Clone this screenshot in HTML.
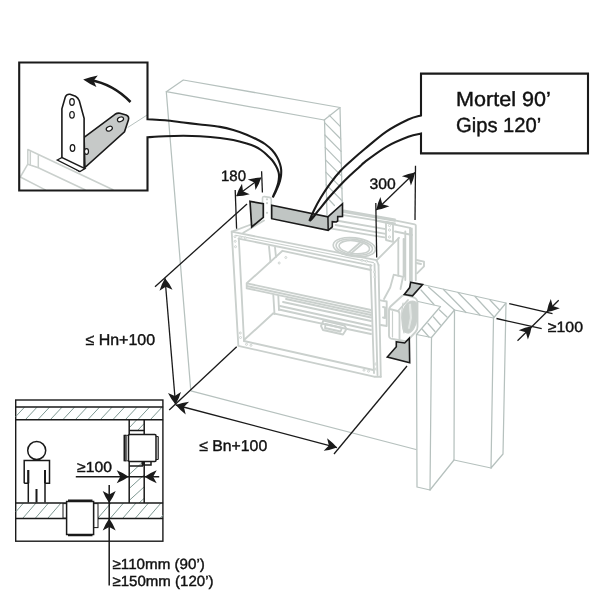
<!DOCTYPE html>
<html><head><meta charset="utf-8"><title>diagram</title>
<style>
html,body{margin:0;padding:0;background:#fff;}
svg{display:block;will-change:transform}
text{font-family:"Liberation Sans",sans-serif;fill:#111;stroke:#111;stroke-width:0.4px;text-rendering:geometricPrecision}
</style></head>
<body>
<svg width="600" height="600" viewBox="0 0 600 600">
<rect width="600" height="600" fill="#fff"/>
<g fill="none" stroke-linecap="round" stroke-linejoin="round">
<path d="M166.3,91.7 L324.2,120 M166.3,91.7 L190.8,390.8 L416,449.5" stroke="#b6c1be" stroke-width="1.25" fill="none" />
<path d="M166.3,91.7 L183.3,80 L340,107.5 L324.2,120" stroke="#b6c1be" stroke-width="1.25" fill="none" />
<path d="M324.5,119.8 L327,215 M340,107.6 L342.3,204" stroke="#b6c1be" stroke-width="1.25" fill="none" />
<line x1="329.10844000000003" y1="115.12" x2="340.456" y2="126.6" stroke="#b6c1be" stroke-width="1.2" />
<line x1="324.5676" y1="122.6" x2="340.7536" y2="139.0" stroke="#b6c1be" stroke-width="1.2" />
<line x1="324.89" y1="135" x2="341.0512" y2="151.4" stroke="#b6c1be" stroke-width="1.2" />
<line x1="325.2124" y1="147.4" x2="341.3488" y2="163.8" stroke="#b6c1be" stroke-width="1.2" />
<line x1="325.5348" y1="159.8" x2="341.6464" y2="176.20000000000002" stroke="#b6c1be" stroke-width="1.2" />
<line x1="325.8572" y1="172.2" x2="341.944" y2="188.6" stroke="#b6c1be" stroke-width="1.2" />
<line x1="326.1796" y1="184.6" x2="342.2416" y2="201.0" stroke="#b6c1be" stroke-width="1.2" />
<line x1="326.5" y1="197" x2="334.5" y2="205.5" stroke="#b6c1be" stroke-width="1.2" />
<path d="M422.5,284.5 L506,303 L493.5,318 L454.5,310 L431.5,337.5 L416.5,334.5 L440.5,306.5 L418,301.5" stroke="#b6c1be" stroke-width="1.25" fill="none" />
<path d="M506,303 L503,454 L491,468 L493.5,318" stroke="#b6c1be" stroke-width="1.25" fill="none" />
<path d="M454.5,310 L454,460 L491,468" stroke="#b6c1be" stroke-width="1.25" fill="none" />
<path d="M431.5,337.5 L430,490 L417,487 L416.5,334.5" stroke="#b6c1be" stroke-width="1.25" fill="none" />
<path d="M430,490 L454,460" stroke="#b6c1be" stroke-width="1.25" fill="none" />
<line x1="421" y1="290" x2="434" y2="304.5" stroke="#b6c1be" stroke-width="1.25" />
<line x1="428.5" y1="287" x2="454.5" y2="310" stroke="#b6c1be" stroke-width="1.25" />
<line x1="443.5" y1="289.5" x2="466" y2="312.5" stroke="#b6c1be" stroke-width="1.25" />
<line x1="458" y1="292.5" x2="480" y2="315" stroke="#b6c1be" stroke-width="1.25" />
<line x1="475" y1="296.5" x2="494" y2="317" stroke="#b6c1be" stroke-width="1.25" />
<line x1="490" y1="300" x2="499.5" y2="310" stroke="#b6c1be" stroke-width="1.25" />
<line x1="439.5" y1="310" x2="447" y2="317" stroke="#b6c1be" stroke-width="1.25" />
<line x1="433.5" y1="317" x2="440.5" y2="325" stroke="#b6c1be" stroke-width="1.25" />
<line x1="428" y1="323.5" x2="435" y2="331.5" stroke="#b6c1be" stroke-width="1.25" />
<line x1="422" y1="329" x2="429" y2="337" stroke="#b6c1be" stroke-width="1.25" />
</g>
<g fill="none" stroke="#cad0cd" stroke-width="1.85" stroke-linecap="round" stroke-linejoin="round">
<path d="M232,231.7 L251,224.5 M243.3,232.8 L264,220.5" fill="none" />
<path d="M231.7,231.7 L376.6,260.2 L378.5,265 M238.5,238.6 L371.5,265.6" fill="none" />
<path d="M235.5,235.3 L373.5,262.6" fill="none" stroke-width="1.1"/>
<path d="M231.7,231.7 L238.3,345 M238.8,238.3 L244,341" fill="none" />
<path d="M244,341 L373.3,370 M238.3,345.8 L374,376.7 L380.8,376.7" fill="none" />
<path d="M370.5,265 L374,373 M378.5,265 L380.8,376.7 M374.5,264 L377.5,375" fill="none" />
<path d="M244,340 L273.3,313.3 L371,334" fill="none" />
<path d="M246.7,283.3 L282.5,250.8 L371,270 M246.7,283.3 L371,310 M246.7,286 L371,312.7 M246.7,288.3 L371,315 M246.7,283.3 L246.7,288.3" fill="none" />
<path d="M269,246.5 L270.5,262 M275,247.5 L276,257 M273.3,295 L274.5,314 M278.3,296 L279,310" fill="none" />
<path d="M280,306 L371,326 M283,302 L371,321 M279,309.5 L371,330 M286,299 L371,317.5" fill="none" />
<path d="M323.5,320.5 L344.5,325.5 L346.5,329 L343,334.5 L323,330 L321,326 Z M325.5,324 L342,328 L340.5,331.5 L325,328 Z" fill="none" />
<path d="M376.3,260.7 L399,237.8" fill="none" />
<path d="M343.7,210.5 L395,219.3 M343.7,212 L395,220.8 M343.7,215.2 L395,223.3 M339,221 L385.7,229.2 M335.5,225 L385.7,233.8 M331.4,228.6 L384.5,237.3" fill="none" />
<ellipse cx="354.3" cy="247.2" rx="21.2" ry="9.4" transform="rotate(7 354.3 247.2)" stroke-width="1.6"/>
<ellipse cx="354.3" cy="247.2" rx="18.3" ry="7.9" transform="rotate(7 354.3 247.2)" stroke-width="1.6"/>
<ellipse cx="354.3" cy="247.2" rx="15.3" ry="6.4" transform="rotate(7 354.3 247.2)" stroke-width="1.6"/>
<path d="M348.5,252.6 L360.5,242.3 M351,253.4 L363,243.2" fill="none" />
<path d="M386,222 L393,223.7 L393,241.8 L386,240 Z" fill="#fff" />
<path d="M377.3,216.8 L414.7,224.3 Q415.8,224.5 415.8,225.5 L415.8,280.3 M377,220.8 L410,227.8 M395,231.5 L412,235" fill="none" />
<path d="M398.3,238.3 L398.3,275.7 M403.6,239 L403.6,276.5 M405.3,231.3 L405.3,280 M410,228 L410,281 M411.8,228.5 L411.8,281" fill="none" />
<path d="M416.4,260 L424,261.7 L424,266.3 L417,273.3 M416.4,263 L421,264" fill="none" />
<path d="M393.7,274.7 L403,276.8 L400.5,289 M393.7,274.7 L390.2,287.5 L384,299" fill="none" />
<path d="M380.5,300.3 L386.7,301.5 L386.7,326 L380.8,325 M383,307 L385,307.5 L385,318 L383,317.5" fill="none" />
<path d="M389,310 Q389,308 390.5,306.5 L402,296 Q404,294.5 406.5,295 L414,297.5 Q417.5,299 417.5,303 L417.5,327 Q417.5,330 415.5,332 L408,340 Q406.5,341.5 404,341 L391,338.6 Q389,338 389,336 Z" fill="#fff" />
<path d="M389.5,309 L397.5,311 Q399.5,311.5 399.5,314 L399.5,340 M398,311 L408,300" fill="none" />
<path d="M405.5,305.6 Q408,301 412.9,301 Q417,301.5 417,305 L417,318 Q416.5,324 413.8,328.5 Q411,333 408.3,333.1 Q404,333 403.2,329 L402.3,317.5 Q402.5,309 405.5,305.6 Z" fill="#c9cfcc" stroke-width="1.2"/>
<path d="M408.5,303.5 L411.5,303 L412.5,318 L410,329.5 L407.3,329 L409.3,318 Z" fill="#e4e8e6" stroke-width="1"/>
<path d="M403,303 Q400,318 404,333 M392.5,311.5 L392.5,337" fill="none" stroke-width="1.2"/>
</g>
<circle cx="235" cy="236.7" r="1" fill="#fff" stroke="#cad0cd" stroke-width="0.9"/>
<circle cx="235.2" cy="241.3" r="1" fill="#fff" stroke="#cad0cd" stroke-width="0.9"/>
<circle cx="235.5" cy="246.7" r="1" fill="#fff" stroke="#cad0cd" stroke-width="0.9"/>
<circle cx="240.8" cy="237.2" r="1" fill="#fff" stroke="#cad0cd" stroke-width="0.9"/>
<circle cx="245.3" cy="238" r="1" fill="#fff" stroke="#cad0cd" stroke-width="0.9"/>
<circle cx="285.8" cy="257.5" r="1" fill="#fff" stroke="#cad0cd" stroke-width="0.9"/>
<circle cx="279.2" cy="263" r="1" fill="#fff" stroke="#cad0cd" stroke-width="0.9"/>
<circle cx="240.3" cy="333" r="1" fill="#fff" stroke="#cad0cd" stroke-width="0.9"/>
<circle cx="240.5" cy="337.5" r="1" fill="#fff" stroke="#cad0cd" stroke-width="0.9"/>
<circle cx="246.5" cy="344.3" r="1" fill="#fff" stroke="#cad0cd" stroke-width="0.9"/>
<circle cx="251" cy="345.3" r="1" fill="#fff" stroke="#cad0cd" stroke-width="0.9"/>
<circle cx="364" cy="370.2" r="1" fill="#fff" stroke="#cad0cd" stroke-width="0.9"/>
<circle cx="368.5" cy="371.2" r="1" fill="#fff" stroke="#cad0cd" stroke-width="0.9"/>
<circle cx="375.8" cy="364" r="1" fill="#fff" stroke="#cad0cd" stroke-width="0.9"/>
<circle cx="376" cy="369" r="1" fill="#fff" stroke="#cad0cd" stroke-width="0.9"/>
<circle cx="362" cy="260.3" r="1" fill="#fff" stroke="#cad0cd" stroke-width="0.9"/>
<circle cx="366.5" cy="261.2" r="1" fill="#fff" stroke="#cad0cd" stroke-width="0.9"/>
<circle cx="374.6" cy="272" r="1" fill="#fff" stroke="#cad0cd" stroke-width="0.9"/>
<circle cx="374.8" cy="277" r="1" fill="#fff" stroke="#cad0cd" stroke-width="0.9"/>
<circle cx="389.5" cy="225.5" r="1.1" fill="#fff" stroke="#cad0cd" stroke-width="0.9"/>
<circle cx="389.5" cy="230" r="1.1" fill="#fff" stroke="#cad0cd" stroke-width="0.9"/>
<circle cx="389.5" cy="237" r="1.1" fill="#fff" stroke="#cad0cd" stroke-width="0.9"/>
<path d="M262.5,217 L262.5,198.5 Q262.5,196.3 264.5,196.6 L269.5,197.4 Q271.3,197.8 271.3,199.8 L271.3,218.6" fill="#fff" stroke="#cad0cd" stroke-width="1.6"/>
<circle cx="267" cy="199.3" r="1.1" fill="#cad0cd" stroke="none"/>
<circle cx="267" cy="203.2" r="1.1" fill="#cad0cd" stroke="none"/>
<circle cx="267" cy="212.8" r="1.1" fill="#cad0cd" stroke="none"/>
<g stroke-linejoin="miter">
<polygon points="250,201.3 263.3,203.7 263.3,217.3 251.7,227" stroke="#1a1a1a" stroke-width="1.7" fill="#c0c5c3" />
<polygon points="271.7,205.3 327.9,216.8 342.5,203.7 342.5,216.4 337.7,216.6 337.7,221 336.3,222 332.3,221.6 332.3,226.8 328.2,230.3 271.7,218.7" stroke="#1a1a1a" stroke-width="1.6" fill="#c0c5c3" />
<line x1="327.9" y1="216.8" x2="328.2" y2="230.3" stroke="#1a1a1a" stroke-width="1.5" />
<polygon points="410.6,282.3 422.6,284.6 412.5,295.8 404.3,294.5 409.7,287.6" stroke="#1a1a1a" stroke-width="1.6" fill="#c0c5c3" />
<polygon points="396.3,341.7 404.7,343 409.3,338.3 409.7,362.7 387.3,357 396.3,346.7" stroke="#1a1a1a" stroke-width="1.6" fill="#c0c5c3" />
</g>
<line x1="235.2" y1="190" x2="236.6" y2="228.7" stroke="#1a1a1a" stroke-width="1.3" />
<line x1="261.6" y1="171.3" x2="262.4" y2="192.5" stroke="#1a1a1a" stroke-width="1.3" />
<line x1="236.7" y1="195.8" x2="260.8" y2="178" stroke="#1a1a1a" stroke-width="1.3" />
<path d="M236.2,196.2 Q238.3,189.6 242.0,183.8 L243.0,191.2 L249.7,194.3 Q243.1,196.1 236.2,196.2 Z" fill="#1a1a1a"/>
<path d="M261.3,177.6 Q259.2,184.2 255.5,190.0 L254.5,182.6 L247.8,179.5 Q254.4,177.7 261.3,177.6 Z" fill="#1a1a1a"/>
<line x1="375.8" y1="203" x2="376.7" y2="257.5" stroke="#1a1a1a" stroke-width="1.3" />
<line x1="415.5" y1="165.8" x2="415" y2="220" stroke="#1a1a1a" stroke-width="1.3" />
<line x1="376.3" y1="210" x2="415" y2="172.5" stroke="#1a1a1a" stroke-width="1.3" />
<path d="M376.3,210.0 Q377.5,203.2 380.4,197.0 L382.3,204.2 L389.4,206.3 Q383.1,209.0 376.3,210.0 Z" fill="#1a1a1a"/>
<path d="M415.0,172.5 Q413.8,179.3 410.9,185.5 L409.0,178.3 L401.9,176.2 Q408.2,173.5 415.0,172.5 Z" fill="#1a1a1a"/>
<line x1="247" y1="204" x2="155" y2="286.7" stroke="#1a1a1a" stroke-width="1.3" />
<line x1="165" y1="278.3" x2="175.5" y2="404" stroke="#1a1a1a" stroke-width="1.3" />
<path d="M165.0,278.3 Q169.5,283.5 172.5,289.7 L165.7,286.7 L159.5,290.8 Q161.4,284.2 165.0,278.3 Z" fill="#1a1a1a"/>
<path d="M175.5,404.5 Q171.0,399.3 168.0,393.1 L174.8,396.1 L181.0,392.0 Q179.1,398.6 175.5,404.5 Z" fill="#1a1a1a"/>
<line x1="236.7" y1="346.7" x2="169.2" y2="410" stroke="#1a1a1a" stroke-width="1.3" />
<line x1="175.8" y1="405" x2="337" y2="447.6" stroke="#1a1a1a" stroke-width="1.3" />
<path d="M175.8,405.0 Q182.2,402.5 189.1,401.8 L183.9,407.1 L185.7,414.4 Q180.2,410.3 175.8,405.0 Z" fill="#1a1a1a"/>
<path d="M337.0,447.6 Q330.6,450.1 323.7,450.8 L328.9,445.5 L327.1,438.2 Q332.6,442.3 337.0,447.6 Z" fill="#1a1a1a"/>
<line x1="334" y1="454" x2="407" y2="366" stroke="#1a1a1a" stroke-width="1.3" />
<line x1="509.2" y1="303.7" x2="552.5" y2="313.7" stroke="#1a1a1a" stroke-width="1.3" />
<line x1="496.5" y1="318.5" x2="541.7" y2="328.7" stroke="#1a1a1a" stroke-width="1.3" />
<line x1="558.7" y1="300.3" x2="517.5" y2="340.8" stroke="#1a1a1a" stroke-width="1.3" />
<path d="M546.7,312.0 Q547.9,305.2 550.8,299.0 L552.7,306.1 L559.8,308.3 Q553.5,311.0 546.7,312.0 Z" fill="#1a1a1a"/>
<path d="M531.7,326.3 Q530.7,333.1 527.9,339.4 L525.8,332.3 L518.7,330.3 Q524.9,327.5 531.7,326.3 Z" fill="#1a1a1a"/>
<rect x="19.2" y="62.5" width="128.3" height="128" fill="#fff"/>
<g fill="none" stroke-linecap="round" stroke-linejoin="round">
<path d="M27.8,149.5 L113,189.8 M27.8,149.5 L27.8,164.2 L20.3,177 L45.3,189.8 M38.3,155.5 L38.3,167.7 L85,189.8 M27.8,164.2 L38.3,167.7 M30.3,151 L30.3,164.5" stroke="#cad0cd" stroke-width="1.5" fill="none" />
<path d="M128,127.3 L146.7,115.3" stroke="#b6c1be" stroke-width="1" fill="none" />
</g>
<path d="M84.1,137.3 L115,114.3 Q117.5,112.8 120,113.3 L126.1,115.1 Q129.5,116.5 128.4,120 L124.5,131.8 L84.9,167.6 Z" stroke="#1a1a1a" stroke-width="1.6" fill="#c6c9c8" />
<ellipse cx="120.5" cy="119.3" rx="3.2" ry="2.2" transform="rotate(-25 120.5 119.3)" fill="#fff" stroke="#1a1a1a" stroke-width="1.2"/>
<ellipse cx="109.3" cy="128.7" rx="3.2" ry="2.2" transform="rotate(-25 109.3 128.7)" fill="#fff" stroke="#1a1a1a" stroke-width="1.2"/>
<path d="M61.9,159.5 L61.9,108.8 L65.3,97 Q66.8,93.8 70,94.3 L75.5,96.2 Q78,97.5 79.3,100.8 L84.1,118.3 L84.1,168.2 L79.3,171.4 Z" stroke="#1a1a1a" stroke-width="1.6" fill="#fff" />
<ellipse cx="86.5" cy="151.5" rx="2" ry="2.8" fill="#fff" stroke="#1a1a1a" stroke-width="1.2"/>
<ellipse cx="72" cy="102" rx="2.3" ry="3.3" fill="#fff" stroke="#1a1a1a" stroke-width="1.2"/>
<ellipse cx="72" cy="114.8" rx="2.3" ry="3.3" fill="#fff" stroke="#1a1a1a" stroke-width="1.2"/>
<ellipse cx="72.5" cy="148" rx="2.3" ry="3.3" fill="#fff" stroke="#1a1a1a" stroke-width="1.2"/>
<polygon points="57.3,160 62,157.5 85,168.5 80,171.5" stroke="#1a1a1a" stroke-width="1.4" fill="#fff" />
<path d="M130.5,102 Q113,84 90,80" stroke="#1a1a1a" stroke-width="2.6" fill="none" />
<path d="M83.2,79.5 Q90.2,76.6 97.8,75.4 L93.6,80.7 L96.4,86.9 Q89.4,84.0 83.2,79.5 Z" fill="#1a1a1a"/>
<path d="M272.8,197.5 C273.3,196.4 275.0,193.2 276.0,191.0 C277.0,188.8 278.2,186.3 279.0,184.0 C279.8,181.7 280.4,179.3 280.8,177.0 C281.2,174.7 281.3,172.2 281.2,170.0 C281.1,167.8 280.7,166.2 280.0,164.0 C279.3,161.8 278.3,159.3 277.0,157.0 C275.7,154.7 274.0,152.2 272.0,150.0 C270.0,147.8 267.3,145.7 265.0,144.0 C262.7,142.3 261.1,141.6 258.0,140.0 C254.9,138.4 250.8,136.4 246.7,134.7 C242.6,133.0 237.8,131.3 233.3,130.0 C228.9,128.7 225.6,127.8 220.0,126.9 C214.4,126.0 206.1,125.2 200.0,124.5 C193.9,123.8 189.1,123.2 183.3,122.5 C177.5,121.8 171.0,120.8 165.0,120.3 C159.0,119.8 150.4,119.5 147.5,119.3 L147.5,62.5 L19.2,62.5 L19.2,190.5 L147.5,190.5 L147.5,137.3 C150.4,137.1 159.0,136.4 165.0,136.2 C171.0,135.9 177.5,135.8 183.3,135.8 C189.1,135.8 193.9,135.9 200.0,136.3 C206.1,136.7 214.4,137.4 220.0,138.0 C225.6,138.6 228.9,139.1 233.3,140.0 C237.8,140.9 243.1,142.4 246.7,143.5 C250.3,144.6 252.6,145.4 255.0,146.5 C257.4,147.6 259.0,148.6 261.0,150.0 C263.0,151.4 265.2,153.3 267.0,155.0 C268.8,156.7 270.5,158.2 272.0,160.0 C273.5,161.8 274.9,164.0 276.0,166.0 C277.1,168.0 278.0,170.2 278.5,172.0 C279.0,173.8 279.1,175.2 279.0,177.0 C278.9,178.8 278.7,181.0 278.2,183.0 C277.7,185.0 277.0,186.9 276.2,189.0 C275.4,191.1 274.1,194.1 273.5,195.5 C272.9,196.9 272.9,197.2 272.8,197.5" stroke="#1a1a1a" stroke-width="2.1" fill="none" stroke-linejoin="miter"/>
<path d="M309.3,220.9 C310.1,219.1 312.1,214.1 314.0,210.2 C315.9,206.3 318.3,201.8 321.0,197.3 C323.7,192.8 327.0,187.8 330.3,183.3 C333.6,178.8 337.2,174.4 340.8,170.5 C344.4,166.6 348.0,163.6 352.0,160.0 C356.0,156.4 359.2,153.6 365.0,148.8 C370.8,144.0 379.5,136.3 386.7,131.4 C393.9,126.5 402.6,122.2 408.3,119.5 C414.0,116.8 418.9,116.1 421.0,115.4 L421,73.6 L588,73.6 L588,153.4 L421,153.4 L421,133.6 C418.9,134.1 414.0,134.6 408.3,136.8 C402.6,139.0 393.9,142.4 386.7,146.6 C379.5,150.8 369.4,158.5 365.0,161.8 C360.6,165.1 362.5,164.2 360.0,166.4 C357.5,168.6 353.6,172.0 350.2,175.2 C346.8,178.4 343.2,182.0 339.7,185.7 C336.2,189.4 332.7,193.2 329.2,197.3 C325.7,201.4 321.6,206.6 318.7,210.2 C315.8,213.8 313.3,217.2 311.7,219.0 C310.1,220.8 309.7,220.6 309.3,220.9" stroke="#1a1a1a" stroke-width="2.1" fill="none" stroke-linejoin="miter"/>
<text x="456" y="105.7" font-size="20.4" textLength="94.8" lengthAdjust="spacingAndGlyphs" text-anchor="start">Mortel 90’</text>
<text x="456" y="131.7" font-size="20.4" textLength="85.3" lengthAdjust="spacingAndGlyphs" text-anchor="start">Gips 120’</text>
<text x="221" y="181.1" font-size="15.0" textLength="25" lengthAdjust="spacingAndGlyphs" text-anchor="start">180</text>
<text x="369.6" y="189.2" font-size="15.0" textLength="26.2" lengthAdjust="spacingAndGlyphs" text-anchor="start">300</text>
<text x="85.5" y="344.8" font-size="15.6" textLength="69.6" lengthAdjust="spacingAndGlyphs" text-anchor="start">≤ Hn+100</text>
<text x="199.2" y="450.5" font-size="15.6" textLength="68" lengthAdjust="spacingAndGlyphs" text-anchor="start">≤ Bn+100</text>
<text x="547.8" y="332" font-size="14.8" textLength="35.2" lengthAdjust="spacingAndGlyphs" text-anchor="start">≥100</text>
<g fill="none">
<rect x="15.7" y="400" width="147.2" height="141.2" stroke="#1a1a1a" stroke-width="1.4" fill="#fff"/>
<g stroke="#7f9993" stroke-width="1">
<line x1="15.7" y1="416.6" x2="24.5" y2="407.2"/>
<line x1="25.5" y1="419.5" x2="37.0" y2="407.2"/>
<line x1="38.0" y1="419.5" x2="49.5" y2="407.2"/>
<line x1="50.5" y1="419.5" x2="62.0" y2="407.2"/>
<line x1="63.0" y1="419.5" x2="74.5" y2="407.2"/>
<line x1="75.5" y1="419.5" x2="87.0" y2="407.2"/>
<line x1="88.0" y1="419.5" x2="99.5" y2="407.2"/>
<line x1="100.5" y1="419.5" x2="112.0" y2="407.2"/>
<line x1="113.0" y1="419.5" x2="124.5" y2="407.2"/>
<line x1="125.5" y1="419.5" x2="137.0" y2="407.2"/>
<line x1="138.0" y1="419.5" x2="149.5" y2="407.2"/>
<line x1="150.5" y1="419.5" x2="162.0" y2="407.2"/>
<line x1="163.0" y1="419.5" x2="163.1" y2="419.4"/>
<line x1="15.7" y1="512.0" x2="23.5" y2="503.0"/>
<line x1="22.5" y1="518.6" x2="36.0" y2="503.0"/>
<line x1="35.0" y1="518.6" x2="48.5" y2="503.0"/>
<line x1="47.5" y1="518.6" x2="61.0" y2="503.0"/>
<line x1="97.5" y1="518.6" x2="111.0" y2="503.0"/>
<line x1="110.0" y1="518.6" x2="123.5" y2="503.0"/>
<line x1="122.5" y1="518.6" x2="136.0" y2="503.0"/>
<line x1="135.0" y1="518.6" x2="148.5" y2="503.0"/>
<line x1="147.5" y1="518.6" x2="161.0" y2="503.0"/>
<line x1="160.0" y1="518.6" x2="163.1" y2="515.0"/>
<line x1="129.2" y1="474.5" x2="144.2" y2="460.8"/>
<line x1="129.2" y1="488.5" x2="144.2" y2="474.8"/>
<line x1="129.2" y1="500.5" x2="144.2" y2="486.8"/>
<line x1="130" y1="427" x2="136.5" y2="420"/>
<line x1="138" y1="430" x2="144.2" y2="423.5"/>
<line x1="139" y1="503" x2="144.2" y2="498.3"/>
</g>
<g stroke="#1a1a1a" stroke-width="1.5">
<path d="M15.7,407 H163.1 M15.7,419.7 H163.1 M15.7,503 H163.1 M15.7,518.6 H163.1"/>
<path d="M129.2,419.7 V503 M144.2,419.7 V503"/>
<rect x="128.5" y="434.5" width="27.5" height="27" rx="1.2" fill="#fff"/>
<path d="M129.2,430.5 H144.2 M129.2,466 H142.3 V461.5 M143.5,461.5 V465 H151 V461.5" />
<path d="M124.6,434.8 V461.3" stroke-width="2.2"/>
<path d="M158.2,436.5 V459.5" stroke-width="1.2"/>
<path d="M126.3,436 V460" stroke-width="0.8"/>
<path d="M124.6,435.3 H128.7 M124.6,460.8 H128.7 M155.8,436.5 H158.2 M155.8,459.5 H158.2" stroke-width="1"/>
<rect x="63" y="503.6" width="3.6" height="14.4" fill="#fff" stroke-width="1"/>
<rect x="93.6" y="503.6" width="4.4" height="24" fill="#fff" stroke-width="1"/>
<rect x="66.6" y="501.5" width="27" height="33" fill="#fff"/>
<path d="M68,500.5 H92.5 M68,535.2 H92.5" stroke-width="2"/>
<circle cx="36.7" cy="450.5" r="9" fill="#fff"/>
<path d="M24.2,483.3 V460.5 H49.5 V483.3 H45 M24.2,483.3 H28.3 V502.5 M45,483.3 V502.5 M28.3,470 V483.3 M45,470 V483.3" />
<path d="M28.3,470 V483.3 M45,470 V483.3 M36.5,489 V502.5" stroke-width="2"/>
<path d="M75.8,476.7 H159.2 M109.2,485 V585.5"/>
</g>
</g>
<path d="M128.7,476.7 Q123.1,480.7 116.7,483.2 L120.3,476.7 L116.7,470.2 Q123.1,472.7 128.7,476.7 Z" fill="#1a1a1a"/>
<path d="M144.7,476.7 Q150.3,472.7 156.7,470.2 L153.1,476.7 L156.7,483.2 Q150.3,480.7 144.7,476.7 Z" fill="#1a1a1a"/>
<path d="M109.2,503.0 Q105.2,497.4 102.7,491.0 L109.2,494.6 L115.7,491.0 Q113.2,497.4 109.2,503.0 Z" fill="#1a1a1a"/>
<path d="M109.2,518.6 Q113.2,524.2 115.7,530.6 L109.2,527.0 L102.7,530.6 Q105.2,524.2 109.2,518.6 Z" fill="#1a1a1a"/>
<text x="77.1" y="472.4" font-size="14.6" textLength="34.8" lengthAdjust="spacingAndGlyphs" text-anchor="start">≥100</text>
<text x="112.5" y="569" font-size="14.6" textLength="92.4" lengthAdjust="spacingAndGlyphs" text-anchor="start">≥110mm (90’)</text>
<text x="112.5" y="586" font-size="14.6" textLength="101" lengthAdjust="spacingAndGlyphs" text-anchor="start">≥150mm (120’)</text>
</svg>
</body></html>
